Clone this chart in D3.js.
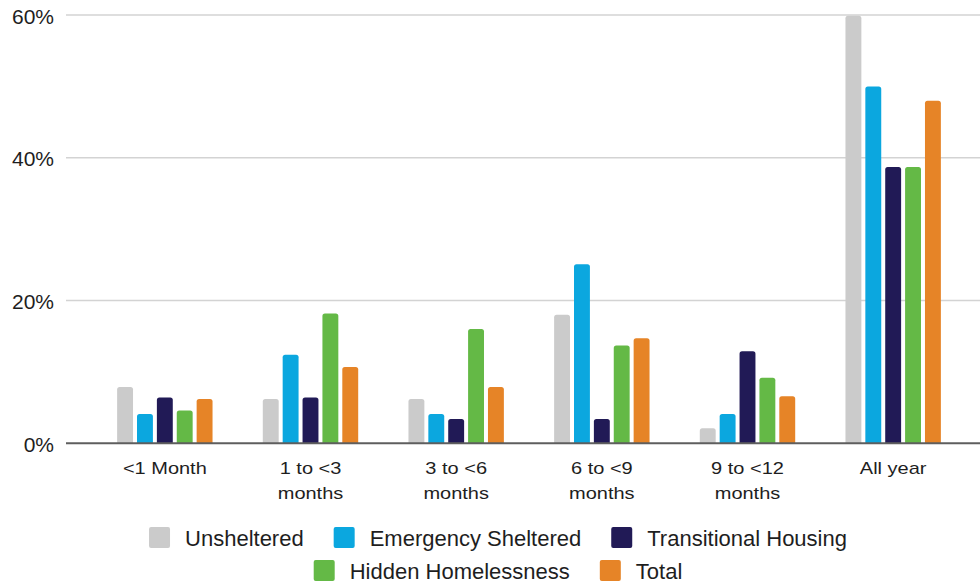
<!DOCTYPE html>
<html>
<head>
<meta charset="utf-8">
<script src="https://cdn.jsdelivr.net/npm/d3@7"></script>
<style>
  html, body { margin: 0; padding: 0; background: #fff; }
  svg { display: block; font-family: "Liberation Sans", Arial, sans-serif; }
</style>
</head>
<body>
<svg id="chart" width="980" height="583"></svg>
<script>
// Length of homelessness, share of respondents by shelter situation
const categories = [["<1 Month"], ["1 to <3", "months"], ["3 to <6", "months"], ["6 to <9", "months"], ["9 to <12", "months"], ["All year"]];
const seriesNames = ["Unsheltered", "Emergency Sheltered", "Transitional Housing", "Hidden Homelessness", "Total"];
const seriesColors = ["#cbcbcb", "#0ba7df", "#211a56", "#64b946", "#e68427"];
const unsheltered = [7.9, 6.2, 6.2, 18.0, 2.1, 59.9];
const emergencySheltered = [4.1, 12.4, 4.1, 25.1, 4.1, 50.0];
const transitionalHousing = [6.4, 6.4, 3.4, 3.4, 12.9, 38.7];
const hiddenHomelessness = [4.6, 18.2, 16.0, 13.7, 9.2, 38.7];
const total = [6.2, 10.7, 7.9, 14.7, 6.6, 48.0];
const yTicks = [0, 20, 40, 60];

const seriesValues = [unsheltered, emergencySheltered, transitionalHousing, hiddenHomelessness, total];
const catKeys = categories.map(c => c.join(" "));

const svg = d3.select("#chart");
const gridLeft = 66, gridRight = 980;

const y = d3.scaleLinear().domain([0, 60]).range([443.3, 15]);
const x0 = d3.scaleBand().domain(catKeys).range([92, 966])
  .paddingInner(0.345).paddingOuter(0.1725);
const x1 = d3.scaleBand().domain(seriesNames).range([0, x0.bandwidth()])
  .paddingInner(0.2).paddingOuter(0);

// gridlines
svg.append("g").selectAll("line").data(yTicks.filter(t => t > 0)).join("line")
  .attr("x1", gridLeft).attr("x2", gridRight)
  .attr("y1", d => y(d)).attr("y2", d => y(d))
  .attr("stroke", "#d3d3d3").attr("stroke-width", 1.5);

// y tick labels
svg.append("g").selectAll("text").data(yTicks).join("text")
  .attr("x", 54).attr("y", d => y(d) + 8.5)
  .attr("text-anchor", "end")
  .attr("font-size", 21).attr("fill", "#1e1e1e")
  .text(d => d + "%");

// bars with rounded tops
function topRounded(x, yTop, w, yBase, r) {
  const rr = Math.min(r, (yBase - yTop) / 2, w / 2);
  return `M${x},${yBase}V${yTop + rr}Q${x},${yTop} ${x + rr},${yTop}H${x + w - rr}Q${x + w},${yTop} ${x + w},${yTop + rr}V${yBase}Z`;
}
const barData = [];
catKeys.forEach((c, ci) => {
  seriesNames.forEach((s, si) => {
    barData.push({ cat: c, series: s, value: seriesValues[si][ci], color: seriesColors[si] });
  });
});
svg.append("g").selectAll("path").data(barData).join("path")
  .attr("d", d => topRounded(x0(d.cat) + x1(d.series), y(d.value), x1.bandwidth(), y(0), 2.5))
  .attr("fill", d => d.color);

// baseline
svg.append("line")
  .attr("x1", gridLeft).attr("x2", gridRight)
  .attr("y1", y(0)).attr("y2", y(0))
  .attr("stroke", "#5e5e5e").attr("stroke-width", 2);

// category labels (slightly flattened type)
const xl = svg.append("g").selectAll("text").data(categories).join("text")
  .attr("text-anchor", "middle")
  .attr("font-size", 20).attr("fill", "#1e1e1e")
  .attr("transform", (d, i) => `translate(${x0(catKeys[i]) + x0.bandwidth() / 2},474.3) scale(1,0.85)`);
xl.selectAll("tspan").data(d => d).join("tspan")
  .attr("x", 0).attr("y", (d, i) => i * 24.7 / 0.85)
  .text(d => d);

// legend: two centered rows
const legendRows = [[0, 1, 2], [3, 4]];
const rowY = [527, 560];
const sw = 21, txtGap = 15, itemGap = 30, legendCenter = 498;
const legend = svg.append("g");
legendRows.forEach((row, ri) => {
  const g = legend.append("g");
  let cx = 0;
  row.forEach(si => {
    g.append("rect").attr("x", cx).attr("y", rowY[ri]).attr("width", sw).attr("height", sw)
      .attr("rx", 2).attr("fill", seriesColors[si]);
    const t = g.append("text").attr("x", cx + sw + txtGap).attr("y", rowY[ri] + 18.5)
      .attr("font-size", 22).attr("fill", "#1e1e1e").text(seriesNames[si]);
    cx += sw + txtGap + t.node().getComputedTextLength() + itemGap;
  });
  const width = cx - itemGap;
  g.attr("transform", `translate(${legendCenter - width / 2},0)`);
});
</script>
</body>
</html>
